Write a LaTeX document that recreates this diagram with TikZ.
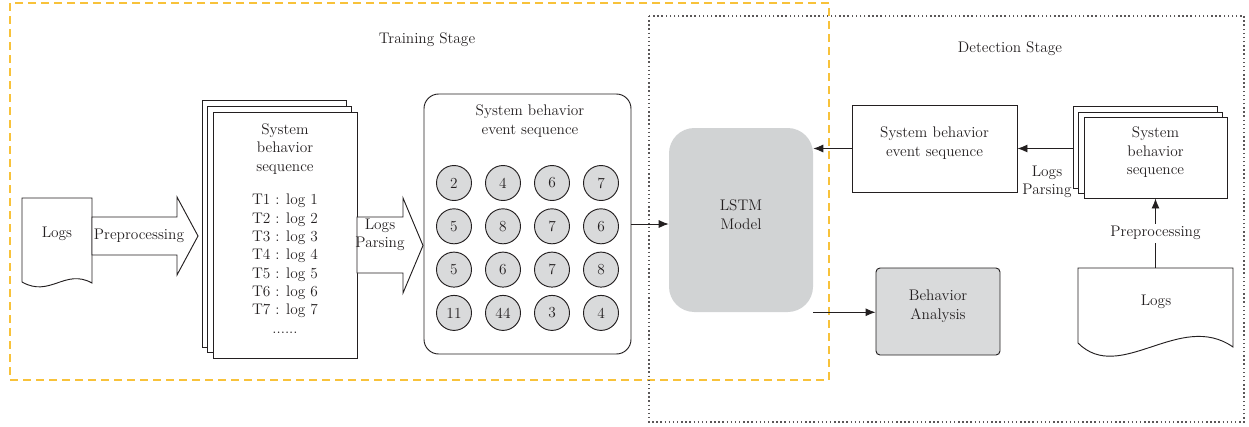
\documentclass[tikz,border=0pt]{standalone}
\usetikzlibrary{arrows.meta,fit,positioning}
\definecolor{ink}{HTML}{231F20}
\definecolor{boxgray}{HTML}{D9DADB}
\definecolor{lstmgray}{HTML}{D1D3D4}
\definecolor{stageyellow}{HTML}{F8C23A}

\tikzset{
  every node/.style={text=ink, font=\fontsize{11.5}{13.75}\selectfont},
  box/.style={draw=ink, line width=0.7pt, inner sep=0pt},
  evcircle/.style={circle, draw=ink, fill=boxgray, line width=0.7pt, minimum size=26.25pt, inner sep=0pt},
  conn/.style={draw=ink, line width=0.7pt, -{Latex[length=7.5pt,width=6pt]}},
  blockarrow/.style={draw=ink, line width=0.7pt, fill=white, line join=miter},
}

\begin{document}
\begin{tikzpicture}[x=0.75pt,y=-0.75pt]
  %%%%% START %%%%%
  \useasboundingbox (0,0) rectangle (1249,426);

  % stages
  \draw[stageyellow, line width=1.5pt, dash pattern=on 6pt off 3.75pt] (10,3) rectangle (829,380);
  \draw[ink!75, line width=1.1pt, dash pattern=on 1.1pt off 2pt] (649,16) rectangle (1244,422);
  \node (trainlbl) at (427,40) {Training Stage};
  \node (detlbl) at (1010,49) {Detection Stage};

  % training: logs
  \draw[box, fill=white] (22,282) -- (22,198) -- (92,198) -- (92,283)
    .. controls (65,268) and (50,298) .. (22,282);
  \node[fit={(22,198) (92,282)}, inner sep=0pt] (logsL) {};
  \node (logsLtxt) at (57,234) {Logs};

  % preprocessing block arrow
  \draw[blockarrow] (92,217) -- (177,217) -- (177,197) -- (198,236) -- (177,275) -- (177,255) -- (92,255) -- cycle;
  \node (prepL) at (139,236) {Preprocessing};

  % behavior sequence (stacked)
  \node[box, fill=white, fit={(202,100) (346,347)}] (seqB) {};
  \node[box, fill=white, fit={(207,106) (351,352)}] (seqM) {};
  \node[box, fill=white, fit={(213,112) (357,358)}] (seqF) {};
  \node[align=center] (seqtxt) at (285,228.5) {System\\behavior\\sequence\\[11.5pt]
    T1 : log 1\\T2 : log 2\\T3 : log 3\\T4 : log 4\\T5 : log 5\\T6 : log 6\\T7 : log 7\\......};

  % logs parsing block arrow
  \draw[blockarrow] (357,217) -- (403,217) -- (403,198) -- (423,245.5) -- (403,293) -- (403,273) -- (357,273) -- cycle;
  \node[align=center] (parseL) at (380,235) {Logs\\Parsing};

  % event sequence
  \node[box, rounded corners=11pt, fit={(424,94) (631,354)}] (evt) {};
  \node[align=center] (evttxt) at (530,121) {System behavior\\event sequence};
  \foreach \n [count=\i from 0] in {2,4,6,7,5,8,7,6,5,6,7,8,11,44,3,4}{
    \pgfmathtruncatemacro\c{mod(\i,4)}
    \pgfmathtruncatemacro\r{div(\i,4)}
    \node[evcircle] (ev\i) at (454+49*\c,183+43.3*\r) {\n};
  }

  % model
  \node[fill=lstmgray, rounded corners=19pt, inner sep=0pt, fit={(669,128) (813,312)}, align=center] (lstm) {LSTM\\Model};
  \node[box, fill=boxgray, rounded corners=3pt, fit={(876,268) (1000,355)}, align=center] (beh) {Behavior\\Analysis};

  % detection
  \node[box, fit={(852,105) (1017,192)}, align=center] (detevt) {System behavior\\event sequence};
  \node[box, fill=white, fit={(1073,106) (1217,188)}] (detseqB) {};
  \node[box, fill=white, fit={(1078,112) (1222,193)}] (detseqM) {};
  \node[box, fill=white, fit={(1084,117) (1227,198)}, align=center] (detseq) {System\\behavior\\sequence};

  \draw[box, fill=white] (1078,343) -- (1078,268) -- (1233,268) -- (1233,347)
    .. controls (1180,310) and (1120,385) .. (1078,343);
  \node[fit={(1078,268) (1233,343)}, inner sep=0pt] (logsR) {};
  \node (logsRtxt) at (1156,302) {Logs};

  % connectors
  \draw[conn] (evt.east) -- (evt.east -| lstm.west);
  \draw[conn] (detevt.west) -- (detevt.west -| lstm.east);
  \draw[conn] (lstm.south east) -- (lstm.south east -| beh.west);
  \draw[conn] (detevt.east -| detseqB.west) -- (detevt.east);
  \node[align=center] (parseR) at (1047,182) {Logs\\Parsing};
  \draw[conn] (logsR.north) -- node[fill=white, inner sep=2pt] (prepR) {Preprocessing} (detseq.south);

  %%%%% END %%%%%
\end{tikzpicture}
\end{document}
